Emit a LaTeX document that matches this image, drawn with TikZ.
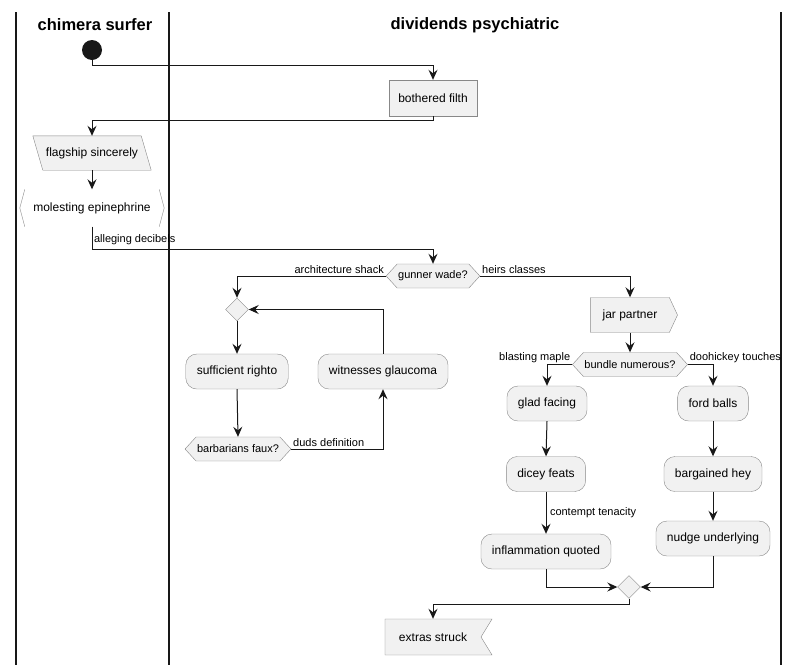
\documentclass[tikz,border=0pt]{standalone}
\usepackage{fontspec}
\setmainfont{Liberation Sans}
\usetikzlibrary{shapes.geometric,shapes.symbols,arrows.meta,backgrounds}

\definecolor{actfill}{HTML}{F1F1F1}
\definecolor{actline}{HTML}{181818}
\definecolor{actborder}{HTML}{888888}

\begin{document}
\begin{tikzpicture}[x=1pt,y=-1pt,
    task/.style={draw=actborder,fill=actfill,rounded corners=11pt,minimum height=35pt,inner xsep=11pt,font=\fontsize{12}{14}\selectfont},
    box/.style={draw=actborder,fill=actfill,minimum width=88pt,minimum height=36pt,font=\fontsize{12}{14}\selectfont},
    cond/.style={signal,signal to=west and east,signal pointer angle=95,draw=actborder,fill=actfill,minimum height=24pt,inner xsep=1pt,inner ysep=0pt,font=\fontsize{11}{13}\selectfont},
    merge/.style={diamond,draw=actborder,fill=actfill,minimum size=23pt,inner sep=0pt},
    lbl/.style={font=\fontsize{11}{13}\selectfont,inner sep=1.5pt},
    flow/.style={draw=actline,line width=1pt,-{Stealth[length=10pt,width=9pt,inset=3.5pt]}},
    lane/.style={draw=actline,line width=1.6pt},
    lanetitle/.style={font=\bfseries\fontsize{16.5}{19}\selectfont}]
  \useasboundingbox (0,0) rectangle (800,665);

  % swimlanes
  \draw[lane] (16,12) -- (16,665);
  \draw[lane] (169,12) -- (169,665);
  \draw[lane] (781,12) -- (781,665);
  \node[lanetitle] (chimera) at (95,25) {chimera surfer};
  \node[lanetitle] (dividends) at (475,25) {dividends psychiatric};

  \node[circle,fill=actline,minimum size=20pt,inner sep=0pt] (start) at (92,50) {};
  \node[box] (filth) at (433,98) {bothered filth};
  \node[minimum width=108pt,minimum height=34pt,font=\fontsize{12}{14}\selectfont] (flag) at (92,153) {flagship sincerely};
  \node[minimum width=144pt,minimum height=37pt,font=\fontsize{12}{14}\selectfont] (mol) at (92,208) {molesting epinephrine};
  \node[cond] (gunner) at (433,276) {gunner wade?};
  \node[merge] (m1) at (237,309.5) {};
  \node[cond] (barb) at (238,449) {barbarians faux?};
  \node[signal,signal to=east,signal pointer angle=130,draw=actborder,fill=actfill,minimum height=35pt,inner xsep=12pt,font=\fontsize{12}{14}\selectfont] (jar) at (630,315) {jar partner};
  \node[cond] (bundle) at (630,364.5) {bundle numerous?};
  \node[merge] (m2) at (629,587) {};
  \node[signal,signal to=nowhere,signal from=east,signal pointer angle=117,draw=actborder,fill=actfill,minimum height=36pt,inner xsep=14pt,font=\fontsize{12}{14}\selectfont] (extras) at (433,637) {extras struck};

  \foreach \n/\x/\y/\t in {righto/237/371.5/sufficient righto, witness/383/371.5/witnesses glaucoma,
      glad/547/403.5/glad facing, ford/713/403.5/ford balls, dicey/546/474/dicey feats,
      hey/713/474/bargained hey, inflam/546/551.5/inflammation quoted, nudge/713/538.5/nudge underlying} {
    \node[task] (\n) at (\x,\y) {\t};
  }

  % odd outlines
  \begin{scope}[on background layer]
    \draw[draw=actborder,fill=actfill] ([xshift=-5pt]flag.north west) -- ([xshift=-5pt]flag.north east)
      -- ([xshift=5pt]flag.south east) -- ([xshift=5pt]flag.south west) -- cycle;
  \end{scope}
  \draw[actborder] ([xshift=5pt]mol.north west) -- (mol.west) -- ([xshift=5pt]mol.south west);
  \draw[actborder] ([xshift=-5pt]mol.north east) -- (mol.east) -- ([xshift=-5pt]mol.south east);

  \draw[flow] (start.south) -- ++(0,5) -| (filth.north);
  \draw[flow] (filth.south) -- ++(0,4) -| (flag.north);
  \draw[flow] (flag.south) -- (mol.north);
  \draw[flow] (mol.south) -- node[lbl,anchor=west,pos=0.55] {alleging decibels} ++(0,23) -| (gunner.north);
  \draw[flow] (gunner.west) -| node[lbl,anchor=south east,pos=0] {architecture shack} (m1.north);
  \draw[flow] (gunner.east) -| node[lbl,anchor=south west,pos=0] {heirs classes} (jar.north);
  \draw[flow] (m1.south) -- (righto.north);
  \draw[flow] (righto.south) -- (barb.north);
  \draw[flow] (barb.east) -| node[lbl,anchor=south west,pos=0] {duds definition} (witness.south);
  \draw[flow] (witness.north) |- (m1.east);
  \draw[flow] (jar.south) -- (bundle.north);
  \draw[flow] (bundle.west) -| node[lbl,anchor=south east,pos=0] {blasting maple} (glad.north);
  \draw[flow] (bundle.east) -| node[lbl,anchor=south west,pos=0] {doohickey touches} (ford.north);
  \draw[flow] (glad.south) -- (dicey.north);
  \draw[flow] (dicey.south) -- node[lbl,anchor=west,xshift=2pt] {contempt tenacity} (inflam.north);
  \draw[flow] (ford.south) -- (hey.north);
  \draw[flow] (hey.south) -- (nudge.north);
  \draw[flow] (inflam.south) |- (m2.west);
  \draw[flow] (nudge.south) |- (m2.east);
  \draw[flow] (m2.south) -- ++(0,5.5) -| (extras.north);
\end{tikzpicture}
\end{document}
